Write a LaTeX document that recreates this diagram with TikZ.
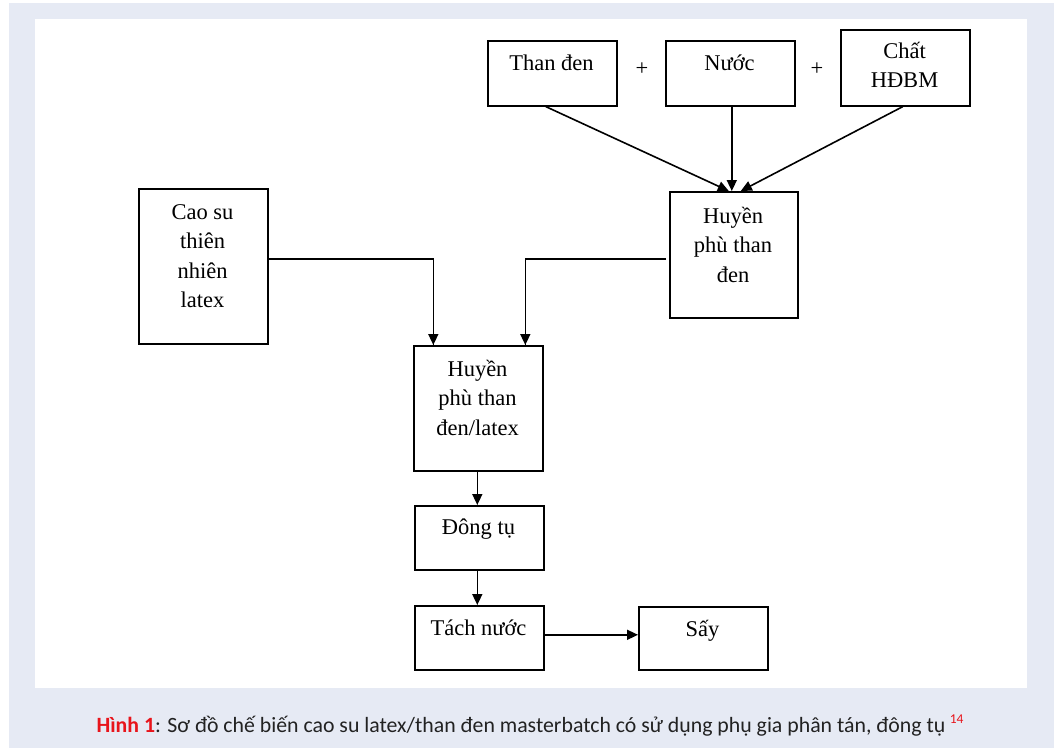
\documentclass[tikz,border=0pt]{standalone}
\usepackage{fontspec}
\setmainfont{Liberation Serif}
\newfontfamily\capfont{Carlito}
\usetikzlibrary{arrows.meta,calc}
\definecolor{panel}{HTML}{E6EAF4}
\definecolor{capred}{HTML}{E8141B}
\definecolor{captext}{HTML}{222222}
\tikzset{
  box/.style={draw, line width=1.6pt, rectangle, inner sep=0pt, anchor=north west},
  lbl/.style={align=center, anchor=north, inner sep=0pt, font=\fontsize{22.5}{29.5}\selectfont},
  arr/.style={line width=1.6pt, -{Triangle[length=11pt,width=10pt]}},
  plain/.style={line width=1.6pt},
}
\begin{document}
\begin{tikzpicture}[x=1pt,y=-1pt]
\useasboundingbox (0,0) rectangle (1057,748);
\fill[panel] (9,3) rectangle (1054,748);
\fill[white] (35,19) rectangle (1027,688);
% boxes
\node[box, minimum width=129pt, minimum height=65pt] (than) at (487,40) {};
\node[box, minimum width=129pt, minimum height=65pt] (nuoc) at (665,40) {};
\node[box, minimum width=129pt, minimum height=76pt] (chat) at (840,29) {};
\node[box, minimum width=128pt, minimum height=126pt] (hp) at (669,191) {};
\node[box, minimum width=129pt, minimum height=155pt] (cs) at (138,188) {};
\node[box, minimum width=129pt, minimum height=125pt] (hpl) at (413,345) {};
\node[box, minimum width=129pt, minimum height=64pt] (dt) at (414,505) {};
\node[box, minimum width=129pt, minimum height=64pt] (tach) at (414,605) {};
\node[box, minimum width=129pt, minimum height=63pt] (say) at (638,606) {};
% labels
\node[lbl] (tthan) at (551.5,49.35) {\strut Than đen};
\node[lbl] (tnuoc) at (729.5,49.35) {\strut Nước};
\node[lbl] (tchat) at (904.5,37.35) {\strut Chất\\HĐBM};
\node[lbl] (thp) at (733,202.35) {\strut Huyền\\phù than\\đen};
\node[lbl] (tcs) at (202.5,198.35) {\strut Cao su\\thiên\\nhiên\\latex};
\node[lbl] (thpl) at (477.5,355.35) {\strut Huyền\\phù than\\đen/latex};
\node[lbl] (tdt) at (478.5,513.35) {\strut Đông tụ};
\node[lbl] (ttach) at (478.5,614.35) {\strut Tách nước};
\node[lbl] (tsay) at (702.5,615.35) {\strut Sấy};
\node[lbl, anchor=center] (p1) at (642,69) {+};
\node[lbl, anchor=center] (p2) at (817,69) {+};
% connectors
\draw[arr] ([xshift=-6.5pt]than.south) -- ([xshift=-5pt]hp.north);
\draw[arr] ([xshift=1.5pt]nuoc.south) -- ([xshift=-2pt]hp.north);
\draw[arr] ([xshift=-2.5pt]chat.south) -- ([xshift=7pt]hp.north);
\draw[plain] ([yshift=7.5pt]cs.east) -| coordinate[pos=0.5] (c1) ([xshift=-45pt]hpl.north);
\draw[arr] (c1) -- ([xshift=-45pt]hpl.north);
\draw[plain] ([yshift=-4pt,xshift=-3pt]hp.west) -| coordinate[pos=0.5] (c2) ([xshift=47pt]hpl.north);
\draw[arr] (c2) -- ([xshift=47pt]hpl.north);
\draw[arr] ([xshift=-1pt]hpl.south) -- ([xshift=-2pt]dt.north);
\draw[arr] ([xshift=-2pt]dt.south) -- ([xshift=-2pt]tach.north);
\draw[arr] ([yshift=3pt]tach.east) -- ($(tach.east -| say.west)+(0,-3)$);
% caption
\node[anchor=base, inner sep=0pt, font=\capfont\fontsize{21.8}{24}\selectfont, text=captext] (cap) at (521,732)
  {\textcolor{capred}{\bfseries Hình 1}: Sơ đồ chế biến cao su latex/than đen masterbatch có sử dụng phụ gia phân tán, đông tụ};
\node[anchor=base west, inner sep=0pt, font=\capfont\fontsize{13.5}{15}\selectfont, text=capred] (sup) at ([xshift=4pt,yshift=9pt]cap.base east) {14};
\end{tikzpicture}
\end{document}
